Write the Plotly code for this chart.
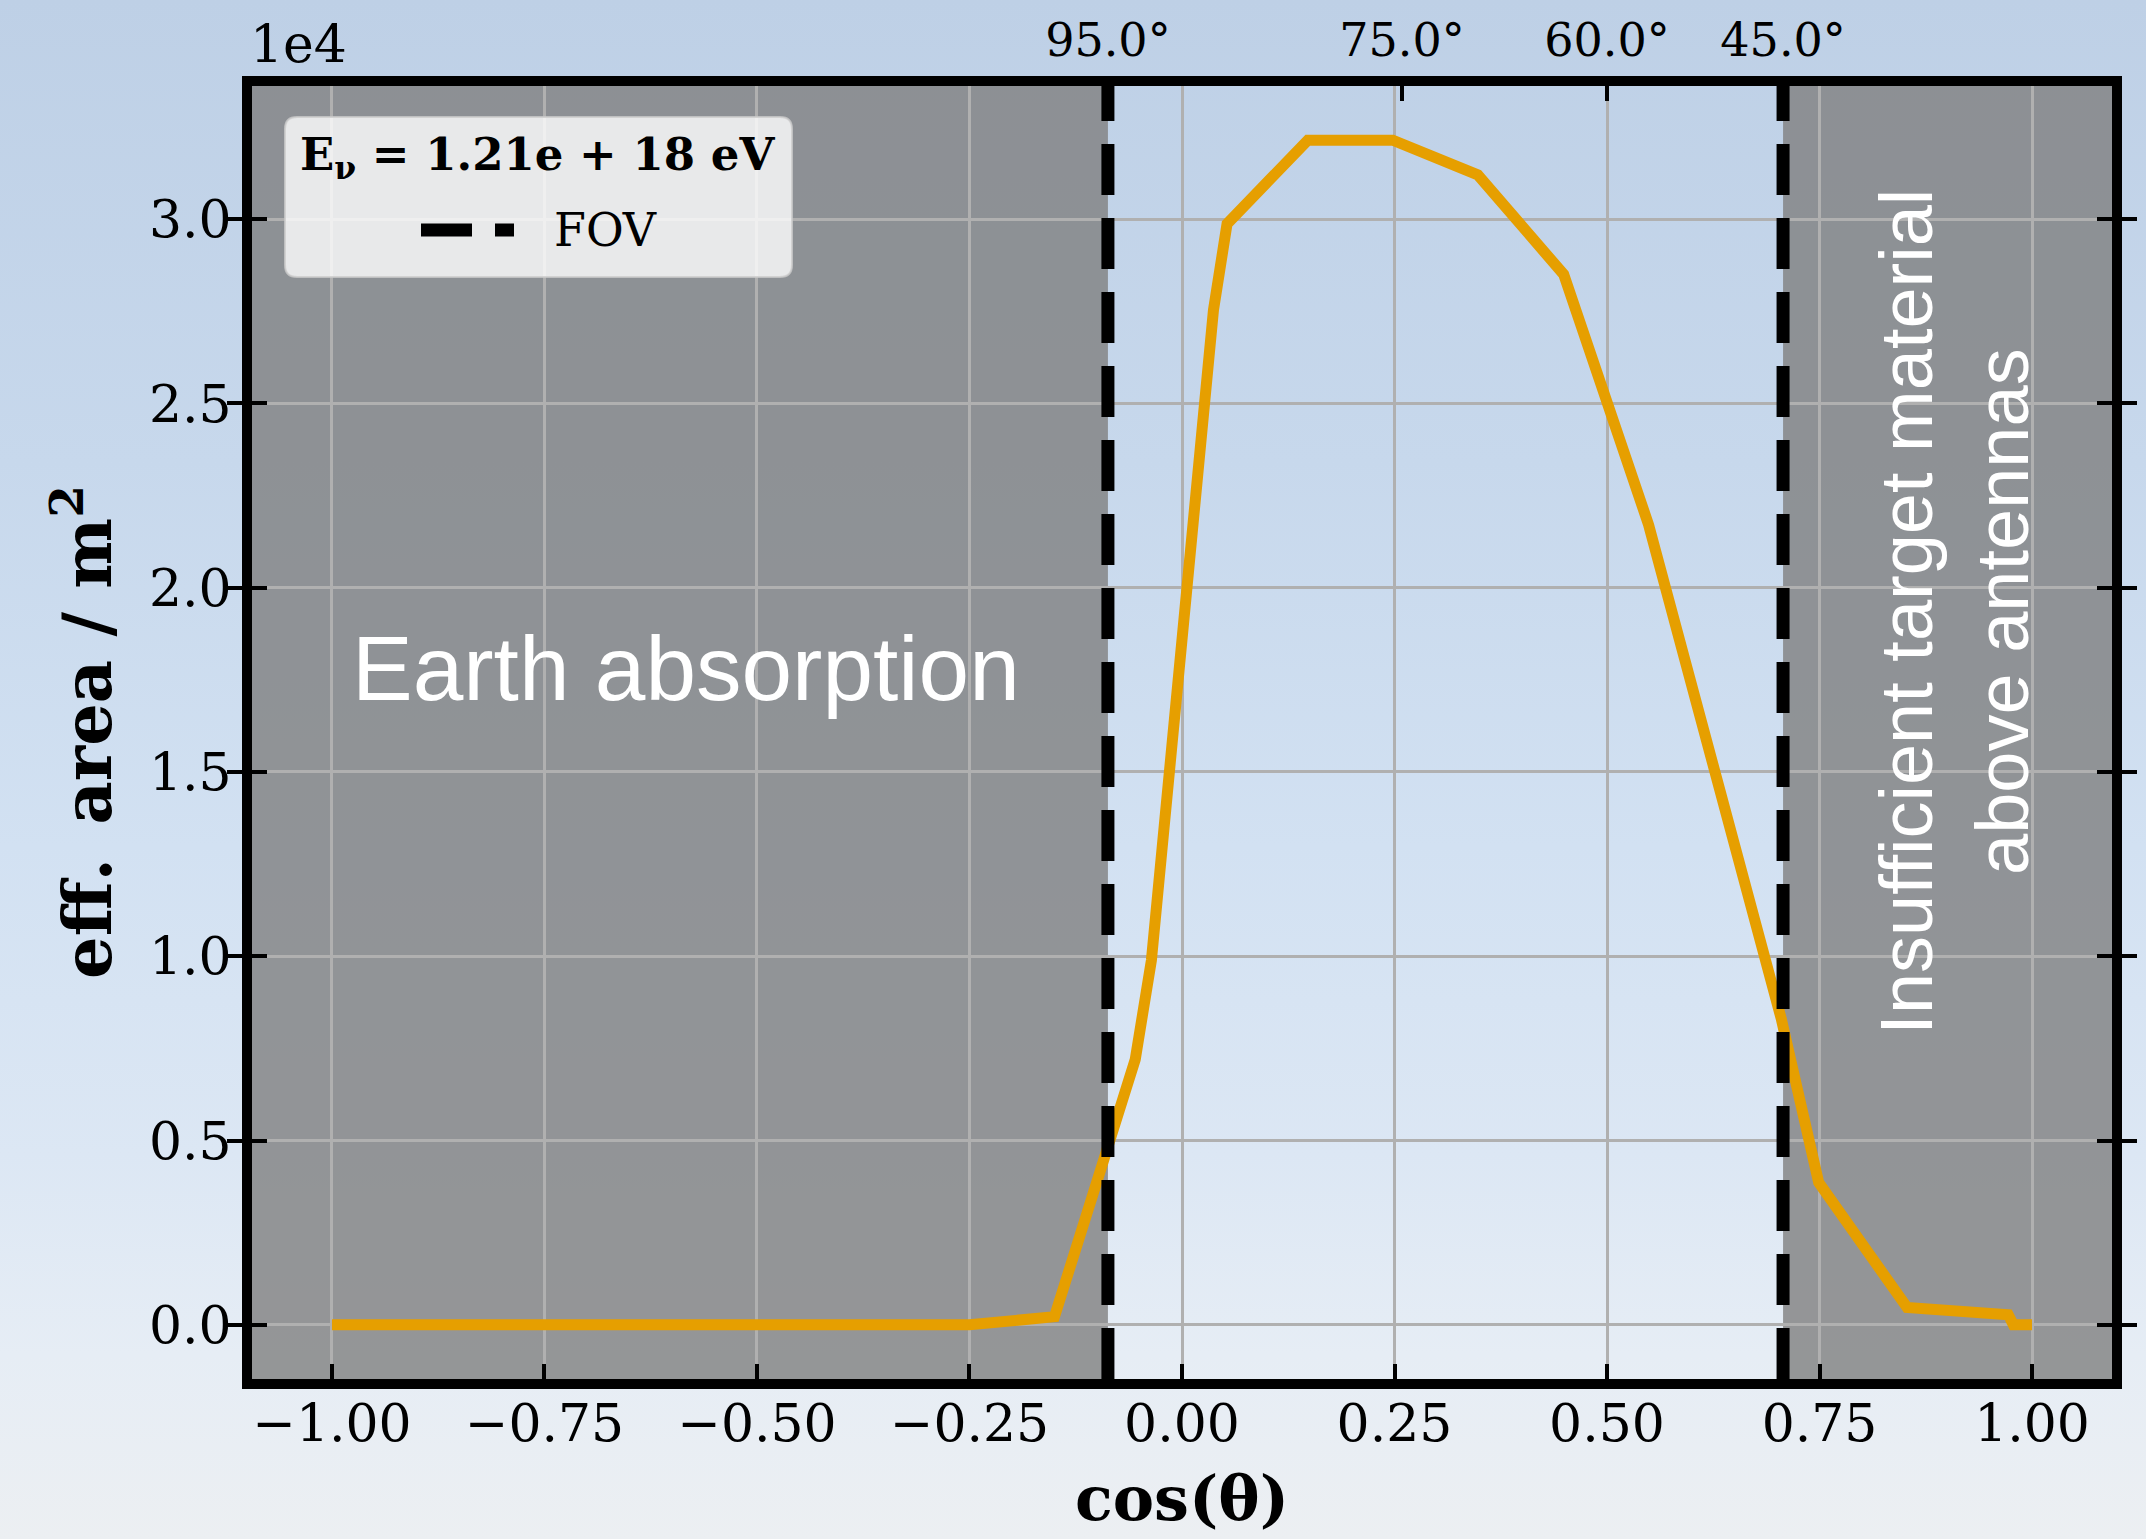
import base64
import numpy as np
import plotly.graph_objects as go

# ---- data -------------------------------------------------------------
cos_theta = [-1.0, -0.25, -0.15, -0.055, -0.036, 0.037, 0.053, 0.148, 0.248,
             0.348, 0.449, 0.549, 0.705, 0.749, 0.853, 0.972, 0.978, 1.0]
eff_area_m2 = [0, 0, 220, 7200, 9890, 27530, 29870, 32140, 32140,
               31200, 28500, 21700, 8300, 3860, 470, 270, 0, 0]
fov_deg = [95.0, 45.0]                 # field-of-view boundaries (zenith)
top_tick_deg = [95.0, 75.0, 60.0, 45.0]
x_ticks = [-1.0, -0.75, -0.5, -0.25, 0.0, 0.25, 0.5, 0.75, 1.0]
y_ticks = [0.0, 0.5, 1.0, 1.5, 2.0, 2.5, 3.0]
energy_label = "1.21e + 18 eV"
scale = 1e4

# ---- geometry ---------------------------------------------------------
W, H = 2146, 1539
L, R, T, B = 252, 2112, 86, 1379          # inner edges of the axes box
SPINE = 10

def px(x):
    return (x - L) / (R - L)

def py(y):
    return (B - y) / (B - T)

y_plot = np.array(eff_area_m2) / scale
fov_cos = [float(np.cos(np.radians(d))) for d in fov_deg]
top_cos = [float(np.cos(np.radians(d))) for d in top_tick_deg]

# matplotlib-like 5 % autoscale margins
xr = [-1.1, 1.1]
ymax = float(y_plot.max())
yr = [-0.05 * ymax, ymax * 1.05]
x_ppu = (R - L) / (xr[1] - xr[0])
y_ppu = (B - T) / (yr[1] - yr[0])
xr = [xr[0] + SPINE / 2 / x_ppu, xr[1] - SPINE / 2 / x_ppu]
yr = [yr[0] + SPINE / 2 / y_ppu, yr[1] - SPINE / 2 / y_ppu]

SERIF = "DejaVu Serif"
SANS = "Liberation Sans"

fig = go.Figure()

fig.add_trace(go.Scatter(
    x=cos_theta, y=y_plot, mode="lines",
    line=dict(color="#E69F00", width=11),
    showlegend=False, hoverinfo="skip"))

for c in fov_cos:
    fig.add_trace(go.Scatter(
        x=[c, c], y=[yr[0], yr[1]], mode="lines", name="FOV",
        line=dict(color="black", width=13, dash="51px,23px"),
        showlegend=False, hoverinfo="skip"))

# invisible trace to carry the top (zenith angle) axis
fig.add_trace(go.Scatter(x=[xr[0], xr[1]], y=[0, 0], xaxis="x2",
                         mode="lines", line=dict(width=0),
                         showlegend=False, hoverinfo="skip"))

# ---- background sky gradient -----------------------------------------
svg = (
    f'<svg xmlns="http://www.w3.org/2000/svg" width="{W}" height="{H}" '
    f'viewBox="0 0 {W} {H}" preserveAspectRatio="none">'
    '<defs><linearGradient id="g" x1="0" y1="0" x2="0" y2="1">'
    '<stop offset="0" stop-color="#bed0e6"/>'
    '<stop offset="0.3" stop-color="#c7d8ec"/>'
    '<stop offset="0.55" stop-color="#d2e1f2"/>'
    '<stop offset="0.75" stop-color="#dce7f4"/>'
    '<stop offset="0.88" stop-color="#e6edf5"/>'
    '<stop offset="1" stop-color="#eceff2"/>'
    '</linearGradient></defs>'
    f'<rect width="{W}" height="{H}" fill="url(#g)"/></svg>'
)
src = "data:image/svg+xml;base64," + base64.b64encode(svg.encode()).decode()
fig.add_layout_image(dict(
    source=src, xref="paper", yref="paper",
    x=px(0), y=py(0), sizex=W / (R - L), sizey=H / (B - T),
    xanchor="left", yanchor="top", sizing="stretch", layer="below"))

# ---- shaded regions outside the FOV ----------------------------------
shade = "rgba(128,128,128,0.8)"
fig.add_shape(type="rect", xref="x", yref="paper", x0=xr[0], x1=min(fov_cos),
              y0=0, y1=1, fillcolor=shade, line_width=0, layer="below")
fig.add_shape(type="rect", xref="x", yref="paper", x0=max(fov_cos), x1=xr[1],
              y0=0, y1=1, fillcolor=shade, line_width=0, layer="below")

# ---- legend box --------------------------------------------------------
bx0, by0, bx1, by1, rad = 285, 117, 792, 277, 12
rx, ry = rad / (R - L), rad / (B - T)
X0, X1, Y0, Y1 = px(bx0), px(bx1), py(by1), py(by0)
path = (f"M {X0+rx},{Y0} L {X1-rx},{Y0} Q {X1},{Y0} {X1},{Y0+ry} "
        f"L {X1},{Y1-ry} Q {X1},{Y1} {X1-rx},{Y1} "
        f"L {X0+rx},{Y1} Q {X0},{Y1} {X0},{Y1-ry} "
        f"L {X0},{Y0+ry} Q {X0},{Y0} {X0+rx},{Y0} Z")
fig.add_shape(type="path", xref="paper", yref="paper", path=path,
              fillcolor="rgba(255,255,255,0.8)",
              line=dict(color="rgba(204,204,204,0.8)", width=2))
fig.add_shape(type="line", xref="paper", yref="paper",
              x0=px(421), x1=px(514), y0=py(230), y1=py(230),
              line=dict(color="black", width=13, dash="51px,23px"))

annotations = [
    dict(text=f"<b>E<sub>ν</sub> = {energy_label}</b>", xref="paper",
         yref="paper", x=px(537), y=py(157), xanchor="center",
         yanchor="middle", showarrow=False,
         font=dict(family=SERIF, size=45, color="black")),
    dict(text="FOV", xref="paper", yref="paper", x=px(552), y=py(230),
         xanchor="left", yanchor="middle", showarrow=False,
         font=dict(family=SERIF, size=46, color="black")),
    dict(text="1e4", xref="paper", yref="paper", x=px(248), y=py(44),
         xanchor="left", yanchor="middle", showarrow=False,
         font=dict(family=SERIF, size=52, color="black")),
    dict(text="<b>cos(θ)</b>", xref="paper", yref="paper", x=px(1182),
         y=py(1498), xanchor="center", yanchor="middle", showarrow=False,
         font=dict(family=SERIF, size=62, color="black")),
    dict(text="<b>eff.\u2002area / m<sup>2</sup></b>", xref="paper",
         yref="paper", x=px(83), y=py(732), xanchor="center",
         yanchor="middle", textangle=-90, showarrow=False,
         font=dict(family=SERIF, size=67, color="black")),
    dict(text="Earth absorption", xref="x", yref="y", x=-0.584, y=1.78,
         xanchor="center", yanchor="middle", showarrow=False,
         font=dict(family=SANS, size=91, color="white")),
    dict(text="Insufficient target material<br>above antennas", xref="x",
         yref="y", x=0.909, y=1.934, xanchor="center", yanchor="middle",
         textangle=-90, showarrow=False,
         font=dict(family=SANS, size=74, color="white")),
]

fig.update_layout(
    width=W, height=H,
    margin=dict(l=L, r=W - R, t=T, b=H - B, pad=0),
    paper_bgcolor="#e9eef4", plot_bgcolor="rgba(0,0,0,0)",
    showlegend=False,
    annotations=annotations,
    xaxis=dict(
        range=xr, tickvals=x_ticks, tickformat=".2f",
        ticks="inside", ticklen=15, tickwidth=4, tickcolor="black",
        showline=True, linewidth=SPINE, linecolor="black", mirror=True,
        showgrid=True, gridcolor="#b0b0b0", gridwidth=2.5, zeroline=False,
        ticklabelstandoff=-10,
        tickfont=dict(family=SERIF, size=52, color="black"),
    ),
    xaxis2=dict(
        range=xr, overlaying="x", side="top", anchor="y",
        tickvals=top_cos, ticktext=[f"{d:.1f}°" for d in top_tick_deg],
        ticks="inside", ticklen=15, tickwidth=4, tickcolor="black",
        showline=False, showgrid=False, zeroline=False,
        ticklabelstandoff=20,
        tickfont=dict(family=SERIF, size=46, color="black"),
    ),
    yaxis=dict(
        range=yr, tickvals=y_ticks, tickformat=".1f",
        ticks="inside", ticklen=15, tickwidth=4, tickcolor="black",
        showline=True, linewidth=SPINE, linecolor="black", mirror="allticks",
        showgrid=True, gridcolor="#b0b0b0", gridwidth=2.5, zeroline=False,
        tickfont=dict(family=SERIF, size=52, color="black"),
    ),
)

fig.write_html("out.html")
